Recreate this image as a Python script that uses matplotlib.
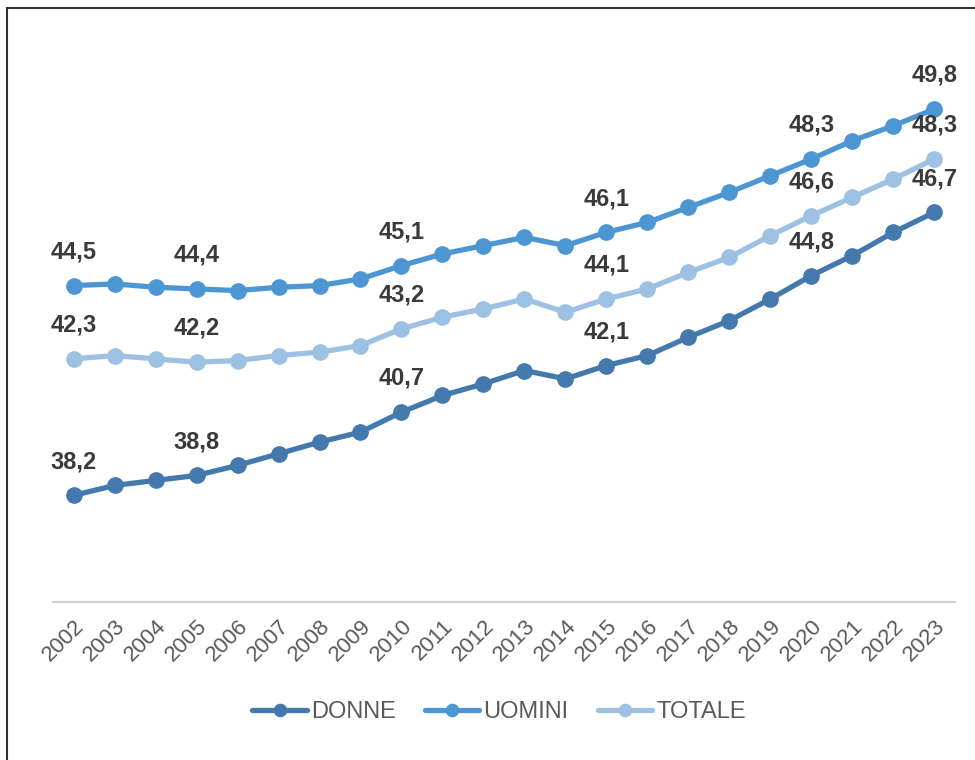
import matplotlib
matplotlib.use('Agg')
import matplotlib.pyplot as plt
from matplotlib.patches import Rectangle

plt.rcParams['font.family'] = ['Liberation Sans', 'DejaVu Sans']

# dati
anni = list(range(2002, 2024))
donne = [38.2, 38.5, 38.65, 38.8, 39.1, 39.45, 39.8, 40.1, 40.7, 41.2, 41.55,
         41.95, 41.7, 42.1, 42.4, 42.95, 43.45, 44.1, 44.8, 45.4, 46.1, 46.7]
uomini = [44.5, 44.55, 44.45, 44.4, 44.35, 44.45, 44.5, 44.7, 45.1, 45.45, 45.7,
          45.95, 45.7, 46.1, 46.4, 46.85, 47.3, 47.8, 48.3, 48.85, 49.3, 49.8]
totale = [42.3, 42.4, 42.3, 42.2, 42.25, 42.4, 42.5, 42.7, 43.2, 43.55, 43.8,
          44.1, 43.7, 44.1, 44.4, 44.9, 45.35, 46.0, 46.6, 47.15, 47.7, 48.3]
anni_etichette = [2002, 2005, 2010, 2015, 2020, 2023]

serie = [('DONNE', donne, '#4479AE'),
         ('UOMINI', uomini, '#4C96D4'),
         ('TOTALE', totale, '#9DC1E3')]

fig = plt.figure(figsize=(9.75, 7.6), dpi=100)
ax = fig.add_axes([0.0544, 0.2079, 0.925, 0.745])

for nome, valori, colore in serie:
    ax.plot(anni, valori, color=colore, lw=3.8, marker='o', ms=11,
            label=nome, solid_capstyle='round')
    for a, v in zip(anni, valori):
        if a in anni_etichette:
            ax.annotate(f'{v:.1f}'.replace('.', ','), (a, v), xytext=(0, 16),
                        textcoords='offset points', ha='center', va='bottom',
                        fontsize=17, fontweight='bold', color='#3A3A3A')

ax.set_xlim(2001.5, 2023.5)
ax.set_ylim(35, 52)
ax.set_yticks([])
ax.set_xticks(anni)
ax.set_xticklabels([str(a) for a in anni], rotation=45, ha='right',
                   rotation_mode='anchor', fontsize=16, color='#595959')
ax.tick_params(axis='x', length=0, pad=10)
for s in ['top', 'right', 'left']:
    ax.spines[s].set_visible(False)
ax.spines['bottom'].set_color('#D0D0D0')
ax.spines['bottom'].set_linewidth(1.5)

fig.legend(loc='center', bbox_to_anchor=(0.512, 0.063), ncol=3, frameon=False,
           fontsize=17, handlelength=2.3, columnspacing=1.25, handletextpad=0.17,
           labelcolor='#595959', markerscale=0.8)

# cornice
fig.patches.append(Rectangle((7 / 975, -0.1), 1.2, 752 / 760 + 0.1,
                             transform=fig.transFigure, fill=False,
                             edgecolor='#333333', lw=1.5))

fig.savefig('out.png', dpi=100)
